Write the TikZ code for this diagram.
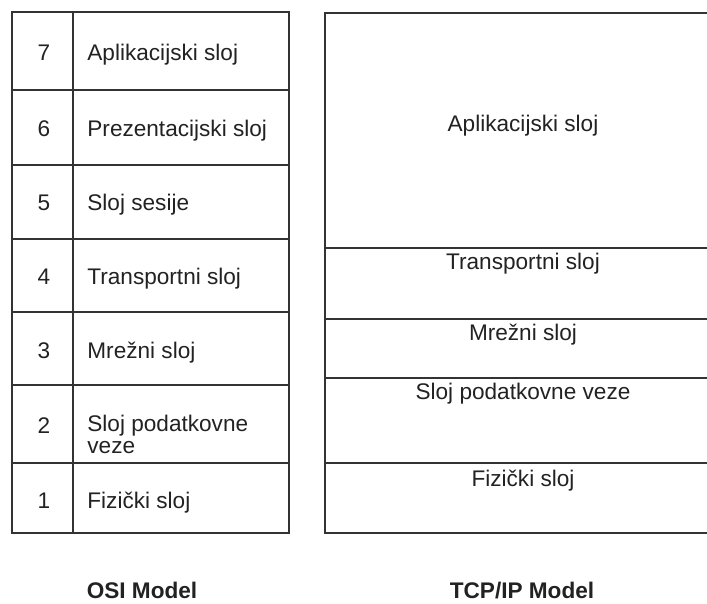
\documentclass[tikz,border=0pt]{standalone}
\usepackage{fontspec}
\setmainfont{Liberation Sans}
\usepackage{xcolor}
\usepackage{tikz}
\definecolor{rule}{HTML}{333333}
\definecolor{ink}{HTML}{222222}

\begin{document}
\begin{tikzpicture}[x=0.5pt,y=-0.5pt,
    grid/.style={draw=rule,line width=1pt},
    layer/.style={text=ink,inner sep=0pt,font=\fontsize{11.3}{11}\selectfont},
    title/.style={layer,font=\fontsize{11.3}{11}\selectfont\bfseries}]
    \useasboundingbox (0,0) rectangle (707,604);
    % OSI table
    \draw[grid] (12,12) rectangle (289,533);
    \draw[grid] (73,12) -- (73,533);
    \foreach \y in {90,165,239,312,385,463}
      \draw[grid] (12,\y) -- (289,\y);
    \node[layer,anchor=base] (n7) at (44,61) {7};
    \node[layer,anchor=base] (n6) at (44,137) {6};
    \node[layer,anchor=base] (n5) at (44,211) {5};
    \node[layer,anchor=base] (n4) at (44,285) {4};
    \node[layer,anchor=base] (n3) at (44,358) {3};
    \node[layer,anchor=base] (n2) at (44,433) {2};
    \node[layer,anchor=base] (n1) at (44,508) {1};
    \node[layer,anchor=base west] (osi7) at (87,61) {Aplikacijski sloj};
    \node[layer,anchor=base west] (osi6) at (87,137) {Prezentacijski sloj};
    \node[layer,anchor=base west] (osi5) at (87,211) {Sloj sesije};
    \node[layer,anchor=base west] (osi4) at (87,285) {Transportni sloj};
    \node[layer,anchor=base west] (osi3) at (87,358) {Mrežni sloj};
    \node[layer,anchor=north west,align=left] (osi2) at (87,415) {Sloj podatkovne\\veze};
    \node[layer,anchor=base west] (osi1) at (87,508) {Fizički sloj};
    % TCP/IP table, cut off at the right edge
    \draw[grid] (707,13) -- (325,13) -- (325,533) -- (707,533);
    \foreach \y in {248,319,378,463}
      \draw[grid] (325,\y) -- (707,\y);
    \node[layer,anchor=base] (tcp4) at (523,132) {Aplikacijski sloj};
    \node[layer,anchor=base] (tcp3) at (523,270) {Transportni sloj};
    \node[layer,anchor=base] (tcp2) at (523,341) {Mrežni sloj};
    \node[layer,anchor=base] (tcp1) at (523,400) {Sloj podatkovne veze};
    \node[layer,anchor=base] (tcp0) at (523,486) {Fizički sloj};
    % captions
    \node[title,anchor=base] (osi) at (142,598) {OSI Model};
    \node[title,anchor=base] (tcp) at (522,598) {TCP/IP Model};
  \end{tikzpicture}
\end{document}
